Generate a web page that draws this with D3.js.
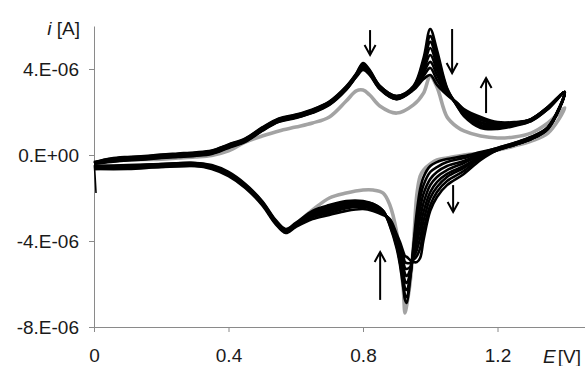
<!DOCTYPE html>
<html>
<head>
<meta charset="utf-8">
<script src="https://cdn.jsdelivr.net/npm/d3@7"></script>
<style>
  body { margin: 0; background: #fff; }
  svg { display: block; font-family: "Liberation Sans", Arial, sans-serif; }
</style>
</head>
<body>
<svg id="chart"></svg>
<script>
// potential grids (V) for the anodic (forward) and cathodic (reverse) sweeps
const eFwd = [0, 0.05, 0.1, 0.15, 0.2, 0.25, 0.3, 0.35, 0.4, 0.45, 0.5, 0.55, 0.6, 0.65, 0.7, 0.75, 0.78, 0.8, 0.82, 0.85, 0.9, 0.95, 0.98, 1.0, 1.02, 1.05, 1.08, 1.1, 1.15, 1.2, 1.25, 1.3, 1.35, 1.4];
const eRev = [1.4, 1.35, 1.3, 1.25, 1.2, 1.15, 1.1, 1.05, 1.02, 1.0, 0.98, 0.97, 0.96, 0.95, 0.94, 0.93, 0.925, 0.92, 0.91, 0.9, 0.88, 0.86, 0.83, 0.8, 0.75, 0.7, 0.65, 0.6, 0.57, 0.54, 0.5, 0.45, 0.4, 0.35, 0.3, 0.2, 0.1, 0];

// first cycle (grey), current in uA
const grayFwd = [-0.37, -0.28, -0.23, -0.21, -0.19, -0.14, -0.09, -0.02, 0.19, 0.60, 0.88, 1.12, 1.30, 1.49, 1.77, 2.51, 2.98, 3.02, 2.79, 2.28, 1.95, 2.33, 2.88, 3.67, 3.16, 1.77, 1.30, 1.12, 0.88, 0.79, 0.84, 1.02, 1.49, 2.19];
const grayRev = [2.19, 1.02, 0.65, 0.42, 0.23, 0.09, 0, -0.14, -0.23, -0.42, -0.70, -0.98, -1.86, -4.19, -5.95, -6.98, -7.35, -6.28, -4.79, -3.58, -2.33, -1.77, -1.63, -1.63, -1.77, -2.0, -2.56, -3.21, -3.49, -3.12, -2.19, -1.44, -0.88, -0.51, -0.42, -0.47, -0.56, -0.51];

// following cycles (black), current in uA
const blackFwd = [
  [-0.33, -0.16, -0.09, -0.05, 0.02, 0.07, 0.12, 0.21, 0.49, 0.77, 1.28, 1.70, 1.88, 2.12, 2.49, 3.19, 3.79, 4.28, 3.95, 3.21, 2.74, 3.21, 4.51, 5.86, 4.88, 3.12, 2.28, 1.81, 1.26, 1.21, 1.35, 1.58, 2.14, 2.93],
  [-0.35, -0.18, -0.11, -0.07, 0.00, 0.05, 0.10, 0.19, 0.47, 0.75, 1.26, 1.68, 1.86, 2.10, 2.47, 3.17, 3.77, 4.23, 3.91, 3.21, 2.74, 3.16, 4.37, 5.53, 4.65, 3.07, 2.28, 1.86, 1.35, 1.26, 1.40, 1.58, 2.14, 2.93],
  [-0.36, -0.21, -0.14, -0.10, -0.03, 0.02, 0.07, 0.16, 0.44, 0.72, 1.23, 1.65, 1.83, 2.07, 2.44, 3.14, 3.74, 4.19, 3.86, 3.16, 2.70, 3.16, 4.23, 5.26, 4.42, 3.02, 2.33, 1.91, 1.40, 1.30, 1.40, 1.63, 2.19, 2.93],
  [-0.37, -0.23, -0.16, -0.12, -0.05, 0.00, 0.05, 0.14, 0.42, 0.70, 1.21, 1.63, 1.81, 2.05, 2.42, 3.12, 3.72, 4.14, 3.86, 3.16, 2.70, 3.12, 4.09, 4.98, 4.19, 2.98, 2.33, 1.95, 1.49, 1.35, 1.44, 1.63, 2.19, 2.93],
  [-0.38, -0.25, -0.18, -0.14, -0.07, -0.02, 0.03, 0.12, 0.40, 0.68, 1.19, 1.61, 1.79, 2.03, 2.40, 3.10, 3.70, 4.09, 3.81, 3.12, 2.65, 3.12, 3.95, 4.65, 3.95, 2.93, 2.37, 2.00, 1.53, 1.40, 1.44, 1.63, 2.19, 2.93],
  [-0.39, -0.28, -0.21, -0.17, -0.10, -0.05, 0.00, 0.09, 0.37, 0.65, 1.16, 1.58, 1.76, 2.00, 2.37, 3.07, 3.67, 4.05, 3.77, 3.12, 2.65, 3.07, 3.81, 4.33, 3.72, 2.88, 2.37, 2.05, 1.63, 1.44, 1.49, 1.67, 2.23, 2.93],
  [-0.40, -0.30, -0.23, -0.19, -0.12, -0.07, -0.02, 0.07, 0.35, 0.63, 1.14, 1.56, 1.74, 1.98, 2.35, 3.05, 3.65, 4.00, 3.77, 3.07, 2.60, 3.07, 3.67, 4.05, 3.49, 2.84, 2.42, 2.09, 1.67, 1.49, 1.49, 1.67, 2.23, 2.93],
  [-0.41, -0.32, -0.25, -0.21, -0.14, -0.09, -0.04, 0.05, 0.33, 0.61, 1.12, 1.54, 1.72, 1.96, 2.33, 3.03, 3.63, 3.95, 3.72, 3.07, 2.60, 3.02, 3.53, 3.72, 3.26, 2.79, 2.42, 2.14, 1.77, 1.53, 1.53, 1.67, 2.23, 2.93]
];
const blackRev = [
  [2.93, 1.30, 0.84, 0.56, 0.33, 0.14, -0.05, -0.19, -0.33, -0.51, -1.02, -1.58, -2.65, -4.19, -5.81, -6.88, -6.74, -6.19, -5.12, -4.33, -3.30, -2.60, -2.28, -2.14, -2.14, -2.33, -2.60, -3.16, -3.44, -3.02, -2.14, -1.35, -0.79, -0.47, -0.37, -0.42, -0.47, -0.51],
  [2.93, 1.30, 0.84, 0.56, 0.33, 0.09, -0.14, -0.33, -0.56, -0.79, -1.40, -2.00, -2.98, -4.33, -5.72, -6.60, -6.51, -5.95, -4.98, -4.23, -3.26, -2.60, -2.28, -2.19, -2.19, -2.37, -2.65, -3.21, -3.49, -3.07, -2.19, -1.40, -0.84, -0.51, -0.37, -0.42, -0.51, -0.51],
  [2.93, 1.26, 0.79, 0.51, 0.28, 0.05, -0.28, -0.51, -0.79, -1.12, -1.81, -2.47, -3.35, -4.47, -5.63, -6.28, -6.19, -5.72, -4.84, -4.14, -3.21, -2.65, -2.33, -2.23, -2.23, -2.42, -2.70, -3.21, -3.49, -3.07, -2.19, -1.40, -0.84, -0.51, -0.42, -0.47, -0.51, -0.56],
  [2.93, 1.26, 0.79, 0.51, 0.28, 0, -0.37, -0.70, -1.02, -1.40, -2.23, -2.93, -3.72, -4.56, -5.49, -5.95, -5.86, -5.44, -4.70, -4.05, -3.16, -2.65, -2.37, -2.28, -2.28, -2.47, -2.74, -3.26, -3.53, -3.12, -2.23, -1.44, -0.88, -0.56, -0.42, -0.47, -0.56, -0.56],
  [2.93, 1.26, 0.79, 0.51, 0.28, -0.05, -0.51, -0.88, -1.26, -1.72, -2.65, -3.40, -4.09, -4.70, -5.35, -5.63, -5.53, -5.16, -4.56, -3.95, -3.12, -2.70, -2.42, -2.33, -2.33, -2.51, -2.79, -3.26, -3.53, -3.12, -2.23, -1.44, -0.88, -0.56, -0.47, -0.51, -0.56, -0.60],
  [2.93, 1.21, 0.74, 0.47, 0.23, -0.09, -0.60, -1.02, -1.49, -2.00, -3.07, -3.86, -4.42, -4.79, -5.21, -5.30, -5.26, -4.93, -4.37, -3.86, -3.07, -2.70, -2.47, -2.37, -2.42, -2.60, -2.84, -3.30, -3.58, -3.16, -2.28, -1.49, -0.93, -0.60, -0.47, -0.51, -0.60, -0.60],
  [2.93, 1.21, 0.74, 0.47, 0.23, -0.14, -0.74, -1.21, -1.72, -2.33, -3.49, -4.33, -4.70, -4.88, -5.02, -5.02, -4.98, -4.70, -4.19, -3.77, -3.02, -2.74, -2.51, -2.42, -2.47, -2.70, -2.88, -3.30, -3.58, -3.16, -2.28, -1.49, -0.93, -0.60, -0.51, -0.56, -0.60, -0.65],
  [2.93, 1.21, 0.74, 0.47, 0.23, -0.23, -0.88, -1.40, -1.95, -2.60, -3.95, -4.79, -4.98, -4.98, -4.88, -4.74, -4.70, -4.51, -4.05, -3.67, -2.98, -2.79, -2.60, -2.51, -2.60, -2.79, -2.98, -3.35, -3.63, -3.21, -2.33, -1.53, -0.98, -0.65, -0.51, -0.56, -0.65, -0.65]
];

// switch-on transient at the very start
const hookE = [0.006, 0.003, 0.001];
const hookI = [-1.77, -0.93, -0.47];

const xTicks = [0, 0.4, 0.8, 1.2];
const xTickLabels = ['0', '0.4', '0.8', '1.2'];
const yTicks = [-8, -4, 0, 4];
const yTickLabels = ['-8.E-06', '-4.E-06', '0.E+00', '4.E-06'];

// arrows: potential, from current, to current
const arrowE = [0.821, 1.065, 1.166, 1.068, 0.851];
const arrowFrom = [5.81, 5.86, 1.95, -1.40, -6.74];
const arrowTo = [4.65, 3.81, 3.58, -2.65, -4.51];

const width = 585, height = 366;
const svg = d3.select('#chart').attr('width', width).attr('height', height);

const x = d3.scaleLinear().domain([0, 1.6]).range([94, 632]);
const y = d3.scaleLinear().domain([-8, 6]).range([327, 26]);

const line = d3.line()
  .x(d => x(d[0]))
  .y(d => y(d[1]))
  .curve(d3.curveCatmullRom.alpha(0.5));

function loop(fwd, rev) {
  const pts = eFwd.map((e, j) => [e, fwd[j]]);
  return pts.concat(eRev.slice(1).map((e, j) => [e, rev[j + 1]]));
}

// axes
const xAxis = svg.append('g')
  .attr('transform', `translate(0,${y(-8)})`)
  .call(d3.axisBottom(x).tickValues(xTicks).tickFormat((d, i) => xTickLabels[i])
    .tickSize(5).tickSizeOuter(0).tickPadding(17));

const yAxis = svg.append('g')
  .attr('transform', `translate(${x(0)},0)`)
  .call(d3.axisLeft(y).tickValues(yTicks).tickFormat((d, i) => yTickLabels[i])
    .tickSize(5).tickSizeOuter(0).tickPadding(10));

[xAxis, yAxis].forEach(a => {
  a.select('.domain').attr('stroke', '#8a8a8a');
  a.selectAll('.tick line').attr('stroke', '#8a8a8a');
  a.selectAll('.tick text')
    .attr('fill', '#1a1a1a')
    .style('font-family', '"Liberation Sans", Arial, sans-serif')
    .style('font-size', '19px');
});

// curves
const plot = svg.append('g');

plot.append('path')
  .attr('d', line(loop(grayFwd, grayRev)))
  .attr('fill', 'none')
  .attr('stroke', '#a3a3a3')
  .attr('stroke-width', 3.6)
  .attr('stroke-linejoin', 'round');

plot.selectAll('path.cycle')
  .data(blackFwd.map((f, k) => loop(f, blackRev[k])))
  .enter().append('path')
  .attr('class', 'cycle')
  .attr('d', d => line(d))
  .attr('fill', 'none')
  .attr('stroke', '#000')
  .attr('stroke-width', 2.6)
  .attr('stroke-linejoin', 'round');

plot.append('path')
  .attr('d', line(hookE.map((e, j) => [e, hookI[j]])))
  .attr('fill', 'none')
  .attr('stroke', '#000')
  .attr('stroke-width', 1.6);

// arrows
const ar = svg.append('g').attr('stroke', '#000').attr('stroke-width', 2).attr('fill', 'none');
arrowE.forEach((e, k) => {
  const ax = x(e), y1 = y(arrowFrom[k]), y2 = y(arrowTo[k]);
  const dir = y2 > y1 ? 1 : -1;
  ar.append('path').attr('d', `M${ax},${y1}L${ax},${y2}`);
  ar.append('path').attr('d', `M${ax - 5.5},${y2 - dir * 10}L${ax},${y2}L${ax + 5.5},${y2 - dir * 10}`);
});

// axis titles
svg.append('text')
  .attr('x', 80).attr('y', 35)
  .attr('text-anchor', 'end')
  .attr('fill', '#1a1a1a')
  .style('font-size', '19px')
  .html('<tspan font-style="italic">i</tspan> [A]');

svg.append('text')
  .attr('x', 543).attr('y', 363)
  .attr('fill', '#1a1a1a')
  .style('font-size', '19px')
  .html('<tspan font-style="italic">E</tspan><tspan dx="2">[V]</tspan>');
</script>
</body>
</html>
